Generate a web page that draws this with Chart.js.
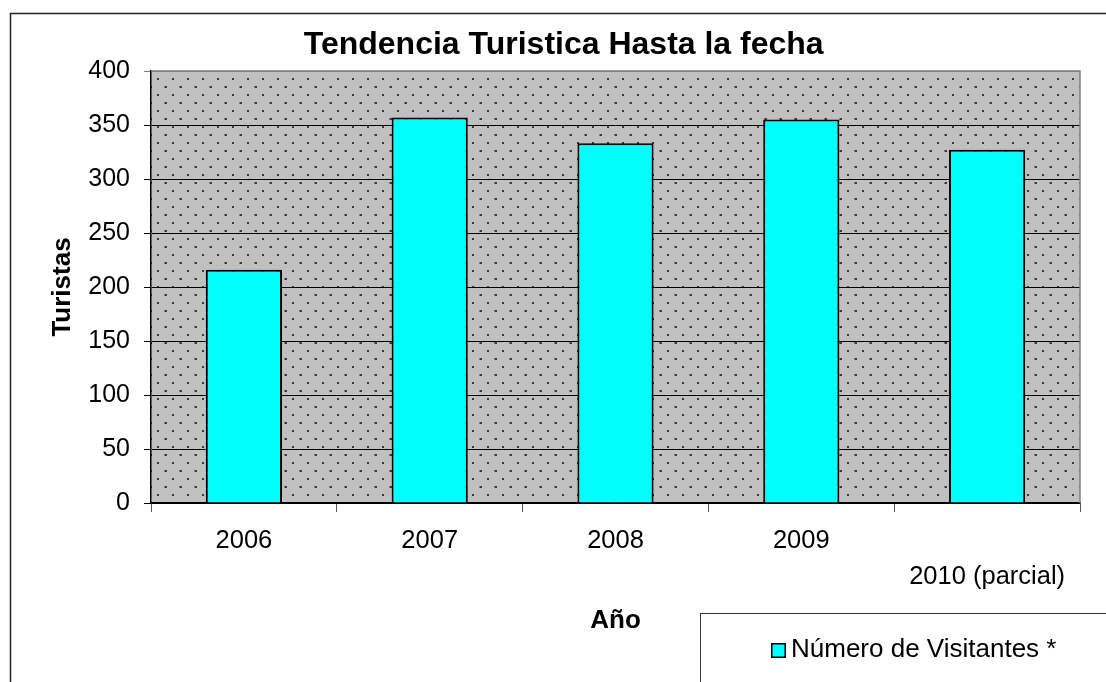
<!DOCTYPE html>
<html>
<head>
<meta charset="utf-8">
<script src="https://cdn.jsdelivr.net/npm/chart.js@4.4.1/dist/chart.umd.min.js"></script>
<style>
  html, body { margin: 0; padding: 0; background: #fff; }
  #wrap { width: 1106px; height: 682px; }
</style>
</head>
<body>
<div id="wrap"><canvas id="turistasChart"></canvas></div>
<script>
// Datos
const years = ['2006', '2007', '2008', '2009', ['', '2010 (parcial)']];
const visitantes = [216, 357, 333, 355, 327];
const yMin = 0, yMax = 400, yStep = 50;

Chart.defaults.font.family = "'Liberation Sans', Arial, sans-serif";
Chart.defaults.color = '#000';

// dotted grey fill like the old Excel pattern
function makePattern() {
    const c = document.createElement('canvas');
    c.width = 15; c.height = 16;
    const g = c.getContext('2d');
    g.fillStyle = '#c0c0c0';
    g.fillRect(0, 0, 15, 16);
    g.fillStyle = '#3a3a3a';
    g.fillRect(7, 14, 2, 2);
    g.fillRect(0, 6, 2, 2);
    g.fillStyle = '#7a7a7a';
    g.fillRect(14, 6, 1, 2);
    return g.createPattern(c, 'repeat');
}

const decorPlugin = {
    id: 'decor',
    beforeDraw(chart) {
        const { ctx, chartArea: a } = chart;
        ctx.save();
        ctx.fillStyle = makePattern();
        ctx.fillRect(a.left, a.top, a.right - a.left, a.bottom - a.top);
        // outer frame of the chart object
        ctx.strokeStyle = '#222';
        ctx.lineWidth = 1.5;
        ctx.strokeRect(10.5, 13.5, 1300, 900);
        ctx.restore();
    },
    afterDraw(chart) {
        const { ctx, chartArea: a } = chart;
        ctx.save();
        // plot area border, top and right
        ctx.strokeStyle = '#808080';
        ctx.lineWidth = 1.5;
        ctx.beginPath();
        ctx.moveTo(a.left, a.top);
        ctx.lineTo(a.right, a.top);
        ctx.lineTo(a.right, a.bottom);
        ctx.stroke();

        // legend box
        ctx.strokeStyle = '#333';
        ctx.lineWidth = 1;
        ctx.fillStyle = '#fff';
        ctx.fillRect(700.5, 613.5, 500, 200);
        ctx.strokeRect(700.5, 613.5, 500, 200);
        const ds = chart.data.datasets[0];
        ctx.fillStyle = ds.backgroundColor;
        ctx.fillRect(772, 644, 13, 13);
        ctx.strokeStyle = '#000';
        ctx.lineWidth = 1.5;
        ctx.strokeRect(771.75, 643.75, 13.5, 13.5);
        ctx.fillStyle = '#000';
        ctx.font = "26px 'Liberation Sans', Arial, sans-serif";
        ctx.textBaseline = 'middle';
        ctx.fillText(ds.label, 791, 650);
        ctx.restore();
    }
};

new Chart(document.getElementById('turistasChart'), {
    type: 'bar',
    data: {
        labels: years,
        datasets: [{
            label: 'Número de Visitantes *',
            data: visitantes,
            backgroundColor: '#00ffff',
            borderColor: '#000',
            borderWidth: 2,
            categoryPercentage: 1.0,
            barPercentage: 0.41
        }]
    },
    options: {
        responsive: true,
        maintainAspectRatio: false,
        animation: false,
        layout: { padding: { left: 47.4, right: 26, top: 0, bottom: 45.4 } },
        plugins: {
            legend: { display: false },
            tooltip: { enabled: false },
            title: {
                display: true,
                text: 'Tendencia Turistica Hasta la fecha',
                font: { size: 32, weight: 'bold' },
                color: '#000',
                padding: { top: 25.8, bottom: 6.8 }
            }
        },
        scales: {
            x: {
                afterFit: s => { s.height = 133.6; },
                grid: {
                    display: true,
                    drawOnChartArea: false,
                    drawTicks: true,
                    tickLength: 9,
                    offset: true,
                    color: '#555'
                },
                border: { display: true, color: '#000', width: 1.5 },
                ticks: {
                    font: { size: 25.5, lineHeight: 1.41 },
                    color: '#000',
                    padding: 11,
                    maxRotation: 0,
                    autoSkip: false
                },
                title: {
                    display: true,
                    text: 'Año',
                    font: { size: 26, weight: 'bold' },
                    color: '#000',
                    padding: 0
                }
            },
            y: {
                min: yMin,
                max: yMax,
                afterFit: s => { s.width = 103.6; },
                grid: {
                    color: c => (c.tick && c.tick.value === yMax) ? '#808080' : '#000',
                    lineWidth: 1,
                    tickLength: 7
                },
                border: { display: true, color: '#000', width: 1.5 },
                ticks: {
                    stepSize: yStep,
                    font: { size: 25 },
                    color: '#000',
                    padding: 14
                },
                title: {
                    display: true,
                    text: 'Turistas',
                    font: { size: 26, weight: 'bold' },
                    color: '#000',
                    padding: 0
                }
            }
        }
    },
    plugins: [decorPlugin]
});
</script>
</body>
</html>
